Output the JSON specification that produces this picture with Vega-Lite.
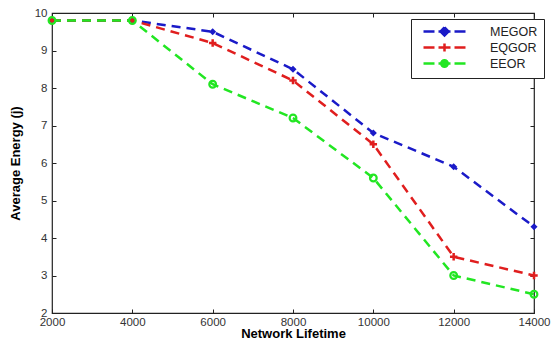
{
  "$schema": "https://vega.github.io/schema/vega-lite/v6.json",
  "width": 482,
  "height": 300,
  "autosize": "none",
  "padding": {"left": 52, "top": 13, "right": 18, "bottom": 34},
  "background": "white",
  "config": {
    "view": {"stroke": "#222222", "strokeWidth": 1.2},
    "axis": {
      "grid": false,
      "domain": false,
      "tickColor": "#222222",
      "tickSize": 4,
      "tickWidth": 1,
      "offset": -4,
      "labelFlush": false,
      "labelFont": "Liberation Sans",
      "labelFontSize": 11.5,
      "labelColor": "#333333",
      "labelPadding": 5,
      "titleFont": "Liberation Sans",
      "titleFontSize": 13,
      "titleFontWeight": "bold",
      "titleColor": "black"
    },
    "legend": {
      "labelFont": "Liberation Sans",
      "labelFontSize": 12.5,
      "labelColor": "#222222"
    }
  },
  "datasets": {
    "d": [
      {"lifetime": 2000, "energy": 9.8, "series": "MEGOR"},
      {"lifetime": 4000, "energy": 9.8, "series": "MEGOR"},
      {"lifetime": 6000, "energy": 9.5, "series": "MEGOR"},
      {"lifetime": 8000, "energy": 8.5, "series": "MEGOR"},
      {"lifetime": 10000, "energy": 6.8, "series": "MEGOR"},
      {"lifetime": 12000, "energy": 5.9, "series": "MEGOR"},
      {"lifetime": 14000, "energy": 4.3, "series": "MEGOR"},
      {"lifetime": 2000, "energy": 9.8, "series": "EQGOR"},
      {"lifetime": 4000, "energy": 9.8, "series": "EQGOR"},
      {"lifetime": 6000, "energy": 9.2, "series": "EQGOR"},
      {"lifetime": 8000, "energy": 8.2, "series": "EQGOR"},
      {"lifetime": 10000, "energy": 6.5, "series": "EQGOR"},
      {"lifetime": 12000, "energy": 3.5, "series": "EQGOR"},
      {"lifetime": 14000, "energy": 3.0, "series": "EQGOR"},
      {"lifetime": 2000, "energy": 9.8, "series": "EEOR"},
      {"lifetime": 4000, "energy": 9.8, "series": "EEOR"},
      {"lifetime": 6000, "energy": 8.1, "series": "EEOR"},
      {"lifetime": 8000, "energy": 7.2, "series": "EEOR"},
      {"lifetime": 10000, "energy": 5.6, "series": "EEOR"},
      {"lifetime": 12000, "energy": 3.0, "series": "EEOR"},
      {"lifetime": 14000, "energy": 2.5, "series": "EEOR"}
    ]
  },
  "data": {"name": "d"},
  "layer": [
    {
      "mark": {"type": "line", "strokeWidth": 2.5, "strokeDash": [9, 6]},
      "encoding": {
        "x": {
          "field": "lifetime",
          "type": "quantitative",
          "scale": {"domain": [2000, 14000], "nice": false},
          "axis": {"values": [2000, 4000, 6000, 8000, 10000, 12000, 14000], "format": "d", "title": "Network Lifetime", "labelPadding": 3, "titlePadding": 0}
        },
        "y": {
          "field": "energy",
          "type": "quantitative",
          "scale": {"domain": [2, 10], "nice": false},
          "axis": {"values": [2, 3, 4, 5, 6, 7, 8, 9, 10], "title": "Average Energy (j)", "titlePadding": 12}
        },
        "color": {
          "field": "series",
          "type": "nominal",
          "scale": {"domain": ["MEGOR", "EQGOR", "EEOR"], "range": ["#1a1ac8", "#e01e1e", "#22e622"]},
          "legend": {
            "title": null, "orient": "none", "legendX": 359, "legendY": 6,
            "strokeColor": "#222222", "fillColor": "white", "padding": 6,
            "symbolType": "M-4.2,0H4.2", "symbolSize": 100, "symbolStrokeWidth": 2.5,
            "symbolOffset": 21, "labelOffset": 39, "rowPadding": -3.5,
            "encode": {
              "symbols": {
                "update": {
                  "shape": {"signal": "datum.value === 'MEGOR' ? 'M-4.2,0H-2M-1.2,0H1.2M2,0H4.2M0,-0.8L0.8,0L0,0.8L-0.8,0Z' : datum.value === 'EQGOR' ? 'M-4.2,0H-2M-1.2,0H1.2M2,0H4.2M0,-0.8V0.8' : 'M-4.2,0H-2M-1.2,0H1.2M2,0H4.2M-0.65,0A0.65,0.65 0 1,1 0.65,0A0.65,0.65 0 1,1 -0.65,0Z'"},
                  "stroke": {"scale": "color", "field": "value"},
                  "fill": {"signal": "datum.value === 'MEGOR' ? '#1a1ac8' : 'transparent'"},
                  "strokeDash": {"value": [100, 0]},
                  "opacity": {"value": 1}
                }
              }
            }
          }
        },
        "order": {"field": "lifetime"}
      }
    },
    {
      "transform": [{"filter": "datum.series === 'MEGOR'"}],
      "mark": {"type": "point", "shape": "diamond", "filled": true, "size": 50, "opacity": 1},
      "encoding": {
        "x": {"field": "lifetime", "type": "quantitative", "axis": {"orient": "top", "labels": false, "title": null, "values": [2000, 4000, 6000, 8000, 10000, 12000, 14000]}},
        "y": {"field": "energy", "type": "quantitative", "axis": {"orient": "right", "labels": false, "title": null, "values": [2, 3, 4, 5, 6, 7, 8, 9, 10]}},
        "color": {"field": "series", "type": "nominal", "legend": null}
      }
    },
    {
      "transform": [{"filter": "datum.series === 'EQGOR'"}],
      "mark": {"type": "point", "shape": "M-1,0H1M0,-1V1", "filled": false, "strokeWidth": 2.5, "size": 55, "opacity": 1},
      "encoding": {
        "x": {"field": "lifetime", "type": "quantitative", "axis": null},
        "y": {"field": "energy", "type": "quantitative", "axis": null},
        "color": {"field": "series", "type": "nominal", "legend": null}
      }
    },
    {
      "transform": [{"filter": "datum.series === 'EEOR'"}],
      "mark": {"type": "point", "shape": "circle", "filled": false, "strokeWidth": 2.2, "size": 45, "opacity": 1},
      "encoding": {
        "x": {"field": "lifetime", "type": "quantitative", "axis": null},
        "y": {"field": "energy", "type": "quantitative", "axis": null},
        "color": {"field": "series", "type": "nominal", "legend": null}
      }
    }
  ],
  "resolve": {"axis": {"x": "independent", "y": "independent"}}
}
